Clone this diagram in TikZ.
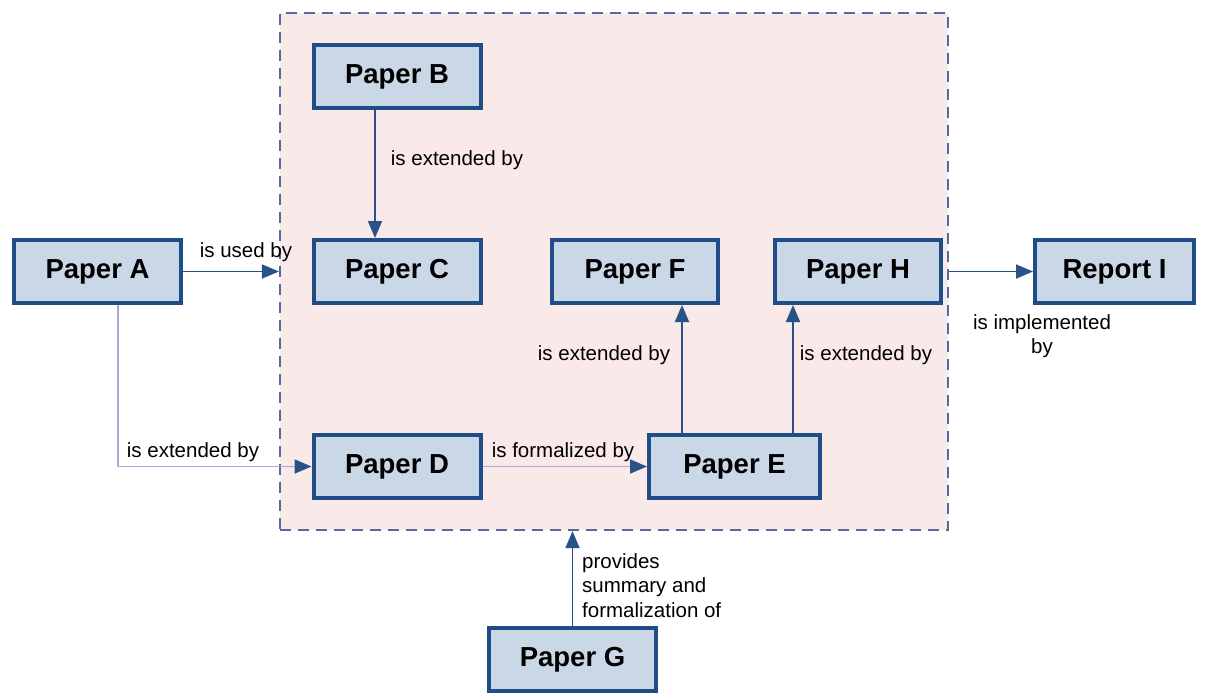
\documentclass[tikz,border=0pt]{standalone}
\usepackage{fontspec}
\setmainfont{Liberation Sans}
\usetikzlibrary{arrows.meta}
\definecolor{boxfill}{HTML}{C9D7E7}
\definecolor{boxline}{HTML}{1F4E87}
\definecolor{arrowdark}{HTML}{2A5188}
\definecolor{arrowlight}{HTML}{A9ABD2}
\definecolor{regionfill}{HTML}{F9E9E9}
\definecolor{regionline}{HTML}{55699A}
\tikzset{
  paper/.style={draw=boxline, fill=boxfill, line width=4pt, minimum height=63pt,
    minimum width=167pt, inner sep=0pt, font=\fontsize{27.5}{31}\selectfont\bfseries},
  rel/.style={draw=arrowdark, line width=1.8pt, -{Triangle[length=17pt,width=14pt]}},
  rellight/.style={draw=arrowlight, line width=1.6pt,
    -{Triangle[length=17pt,width=14pt,color=arrowdark,fill=arrowdark]}},
  lbl/.style={inner sep=0pt, font=\fontsize{20.5}{24.5}\selectfont},
}
\begin{document}
\begin{tikzpicture}[x=1pt,y=-1pt]
\useasboundingbox (0,0) rectangle (1206,693);
% grouped papers
\node[draw=regionline, fill=regionfill, dash pattern=on 11pt off 7pt, line width=2.2pt,
      minimum width=668pt, minimum height=517pt, inner sep=0pt] (region) at (614,271.5) {};
% documents
\node[paper] (A) at (97.5,271.5) {Paper A};
\node[paper] (B) at (397,76.5) {Paper B};
\node[paper] (C) at (397,271.5) {Paper C};
\node[paper, minimum width=166pt] (F) at (635,271.5) {Paper F};
\node[paper, minimum width=166pt] (H) at (858,271.5) {Paper H};
\node[paper, minimum width=159pt] (I) at (1114.5,271.5) {Report I};
\node[paper] (D) at (397,466.5) {Paper D};
\node[paper, minimum width=171pt] (E) at (734.5,466.5) {Paper E};
\node[paper] (G) at (572.5,659.5) {Paper G};
% relations
\draw[rel] (A.east) -- (region.west);
\draw[rellight] ([xshift=20.5pt]A.south) |- (D.west);
\draw[rel] ([xshift=-22pt]B.south) -- ([xshift=-22pt]C.north);
\draw[rellight] (D.east) -- (E.west);
\draw[rel] ([xshift=-52.5pt]E.north) -- ([xshift=47pt]F.south);
\draw[rel] ([xshift=58.5pt]E.north) -- ([xshift=-65pt]H.south);
\draw[rel] (region.east) -- (I.west);
\draw[rel] (G.north) -- (G.north |- region.south);
% relation labels
\node[lbl] (lAC) at (246,252) {is used by};
\node[lbl] (lAD) at (193,452) {is extended by};
\node[lbl] (lBC) at (457,160) {is extended by};
\node[lbl] (lDE) at (563,452) {is formalized by};
\node[lbl] (lEF) at (604,355) {is extended by};
\node[lbl] (lEH) at (866,355) {is extended by};
\node[lbl, align=center] (lI) at (1042,336) {is implemented\\by};
\node[lbl, align=left, anchor=north west] (lG) at (582,553) {provides\\summary and\\formalization of};
\end{tikzpicture}
\end{document}
